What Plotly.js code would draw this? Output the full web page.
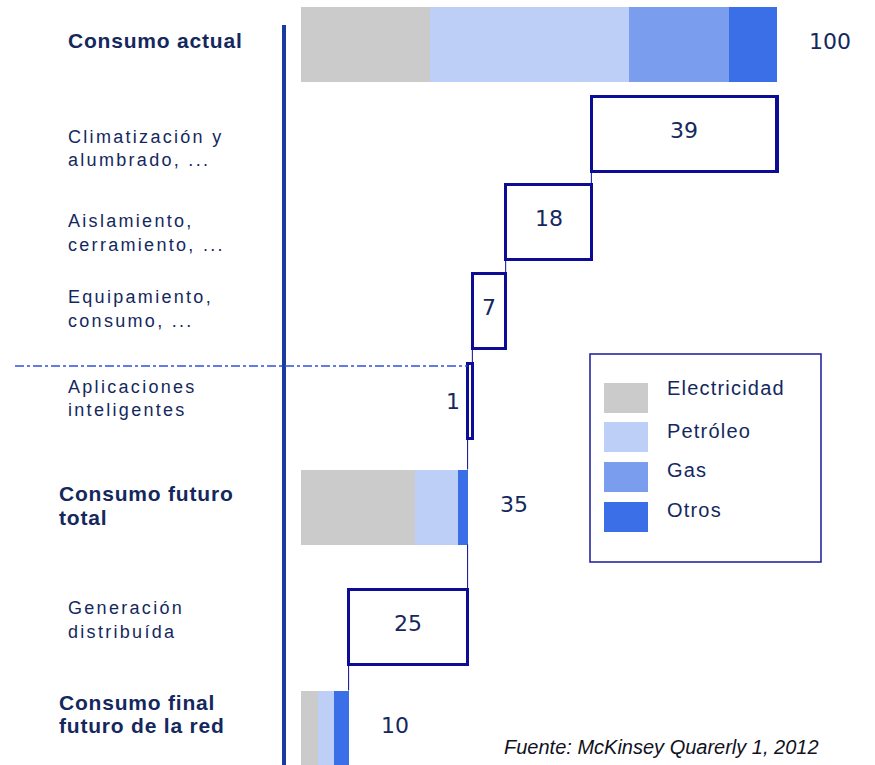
<!DOCTYPE html>
<html>
<head>
<meta charset="utf-8">
<script src="https://cdn.plot.ly/plotly-3.0.1.min.js"></script>
<style>
  html, body { margin: 0; padding: 0; background: #ffffff; }
  #chart { width: 875px; height: 765px; }
</style>
</head>
<body>
<div id="chart"></div>
<script>
// ---------- DATA ----------
const rowLabels = [
  "Consumo actual",
  "Climatización y<br>alumbrado, ...",
  "Aislamiento,<br>cerramiento, ...",
  "Equipamiento,<br>consumo, ...",
  "Aplicaciones<br>inteligentes",
  "Consumo futuro<br>total",
  "Generación<br>distribuída",
  "Consumo final<br>futuro de la red"
];
const rowValues = [100, 39, 18, 7, 1, 35, 25, 10];
const rowIsTotal = [true, false, false, false, false, true, false, true];

const seriesNames = ["Electricidad", "Petróleo", "Gas", "Otros"];
// composition of the three total bars (Consumo actual, Consumo futuro total, Consumo final)
const electricidad = [27, 24, 3.5];
const petroleo     = [42, 9, 3.5];
const gas          = [21, 0, 0];
const otros        = [10, 2, 3];

const sourceText = "Fuente: McKinsey Quarerly 1, 2012";

// ---------- LAYOUT HELPERS (positions / styles) ----------
const W = 875, H = 765;
const x0px = 301, pxPerUnit = 4.76;
const rowY = [44, 134, 222, 311, 401, 507, 627, 728];   // vertical centre of each row (px)
const barH = 75;
const labelLineY = [[40], [137, 160], [221, 245], [297, 321], [387, 410], [493, 517], [608, 632], [702, 725]];
const labelX = [66, 66, 66, 66, 66, 57, 66, 57];
const seriesColors = ["#cbcbcb", "#bdcff7", "#7b9dee", "#3b6fe8"];
const navy = "#14285e";
const boxBlue = "#0c0c96";

const px = x => x / W;

// waterfall geometry from the data
const bases = [];
const endX = [];
let running = 0;
rowValues.forEach((v, i) => {
  if (rowIsTotal[i]) { running = v; bases.push(0); endX.push(v); }
  else { running = running - v; bases.push(running); endX.push(running); }
});

const totalIdx = rowIsTotal.map((t, i) => t ? i : -1).filter(i => i >= 0);
const deltaIdx = rowIsTotal.map((t, i) => t ? -1 : i).filter(i => i >= 0);
const seriesData = [electricidad, petroleo, gas, otros];

const traces = seriesData.map((vals, s) => ({
  type: "bar", orientation: "h", name: seriesNames[s],
  y: totalIdx.map(i => rowY[i]), x: vals, width: barH,
  marker: { color: seriesColors[s], line: { width: 0 } },
  showlegend: false, hoverinfo: "name+x"
}));
traces.push({
  type: "bar", orientation: "h", name: "delta",
  y: deltaIdx.map(i => rowY[i]), x: deltaIdx.map(i => rowValues[i]),
  base: deltaIdx.map(i => bases[i]), width: barH,
  marker: { color: "#ffffff", line: { color: boxBlue, width: 3.5 } },
  showlegend: false, hoverinfo: "x"
});

const shapes = [];
const annotations = [];

// connectors
for (let i = 1; i < rowValues.length - 1; i++) {
  shapes.push({ type: "line", xref: "x", yref: "y",
    x0: endX[i], x1: endX[i], y0: rowY[i] + barH / 2, y1: rowY[i + 1] - barH / 2,
    line: { color: boxBlue, width: 1 } });
}
// vertical axis line
shapes.push({ type: "line", xref: "paper", yref: "y", x0: px(284), x1: px(284), y0: 25, y1: 765,
  line: { color: "#1a3ca0", width: 4 } });
// dash-dot separator
shapes.push({ type: "line", xref: "paper", yref: "y", x0: px(15), x1: px(x0px + bases[4] * pxPerUnit), y0: 366, y1: 366,
  line: { color: "#2f50e0", width: 1.6, dash: "dashdot" } });

// legend box
shapes.push({ type: "rect", xref: "paper", yref: "y", x0: px(590), x1: px(821), y0: 354, y1: 562,
  line: { color: "#1a1a9a", width: 1.5 }, fillcolor: "rgba(0,0,0,0)" });
const legSwY = [383, 422, 462, 502];
const legTxtY = [388, 431, 470, 510];
seriesNames.forEach((n, s) => {
  shapes.push({ type: "rect", xref: "paper", yref: "y", x0: px(604), x1: px(648), y0: legSwY[s], y1: legSwY[s] + 30,
    line: { width: 0 }, fillcolor: seriesColors[s] });
  annotations.push({ xref: "paper", yref: "y", x: px(665), y: legTxtY[s], xanchor: "left", yanchor: "middle",
    text: '<span style="letter-spacing:1.2px">' + n + "</span>", showarrow: false,
    font: { family: "Liberation Sans, Arial, sans-serif", size: 20, color: navy } });
});

// row labels
rowLabels.forEach((lab, i) => {
  const lines = lab.split("<br>");
  lines.forEach((ln, k) => {
    const bold = rowIsTotal[i];
    annotations.push({ xref: "paper", yref: "y", x: px(labelX[i]), y: labelLineY[i][k],
      xanchor: "left", yanchor: "middle", showarrow: false,
      text: bold ? '<b><span style="letter-spacing:0.8px">' + ln + "</span></b>"
                 : '<span style="letter-spacing:2.3px">' + ln + "</span>",
      font: { family: "Liberation Sans, Arial, sans-serif", size: bold ? 21 : 18, color: navy } });
  });
});

// value labels
const numFont = { family: "DejaVu Sans, Verdana, sans-serif", size: 22, color: navy };
rowValues.forEach((v, i) => {
  if (rowIsTotal[i]) {
    annotations.push({ xref: "x", yref: "y", x: v, y: rowY[i] - 3, xanchor: "left", yanchor: "middle",
      xshift: 30, text: String(v), showarrow: false, font: numFont });
  } else if (v * pxPerUnit > 30) {
    annotations.push({ xref: "x", yref: "y", x: bases[i] + v / 2, y: rowY[i] - 4, xanchor: "center", yanchor: "middle",
      text: String(v), showarrow: false, font: numFont });
  } else {
    annotations.push({ xref: "x", yref: "y", x: bases[i], y: rowY[i], xanchor: "right", yanchor: "middle",
      xshift: -6, text: String(v), showarrow: false, font: numFont });
  }
});

// source
annotations.push({ xref: "paper", yref: "y", x: px(821), y: 747, xanchor: "right", yanchor: "middle",
  text: "<i>" + sourceText + "</i>", showarrow: false,
  font: { family: "Liberation Sans, Arial, sans-serif", size: 20, color: "#111122" } });

const layout = {
  width: W, height: H,
  margin: { l: 0, r: 0, t: 0, b: 0 },
  paper_bgcolor: "#ffffff", plot_bgcolor: "#ffffff",
  barmode: "stack", bargap: 0,
  showlegend: false,
  xaxis: { range: [-x0px / pxPerUnit, (W - x0px) / pxPerUnit], visible: false, fixedrange: true },
  yaxis: { range: [H, 0], visible: false, fixedrange: true },
  shapes: shapes,
  annotations: annotations
};

Plotly.newPlot("chart", traces, layout, { displayModeBar: false, staticPlot: true });
</script>
</body>
</html>
